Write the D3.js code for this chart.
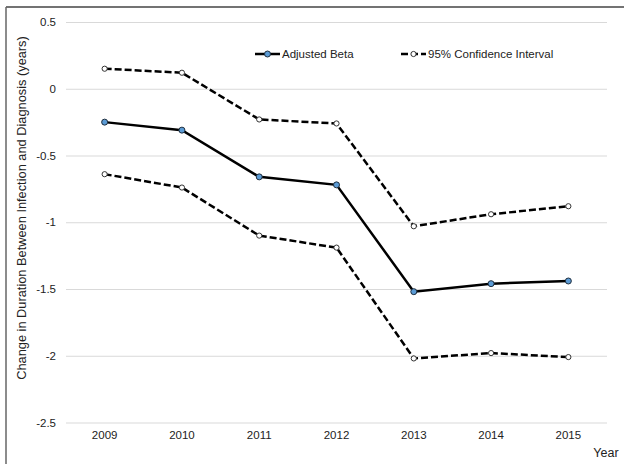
<!DOCTYPE html>
<html>
<head>
<meta charset="utf-8">
<script src="https://cdn.jsdelivr.net/npm/d3@7"></script>
<style>
  body { margin: 0; background: #fff; }
  svg text { font-family: "Liberation Sans", Arial, sans-serif; fill: #222; }
</style>
</head>
<body>
<div class="chart"></div>
<script>
const width = 624;
const height = 464;

// data
const years = ['2009', '2010', '2011', '2012', '2013', '2014', '2015'];
const adjustedBeta = [-0.25, -0.31, -0.66, -0.72, -1.52, -1.46, -1.44];
const upperCI = [0.15, 0.12, -0.23, -0.26, -1.03, -0.94, -0.88];
const lowerCI = [-0.64, -0.74, -1.10, -1.19, -2.02, -1.98, -2.01];
const yTicks = [0.5, 0, -0.5, -1, -1.5, -2, -2.5];

const plot = {left: 66, right: 607, top: 22, bottom: 422.5};

const svg = d3.select('.chart').append('svg')
    .attr('width', width)
    .attr('height', height);

// outer frame (only top and left edges visible)
svg.append('line').attr('x1', 6).attr('x2', width).attr('y1', 7).attr('y2', 7)
    .attr('stroke', '#444').attr('stroke-width', 1.5);
svg.append('line').attr('x1', 6).attr('x2', 6).attr('y1', 7).attr('y2', height)
    .attr('stroke', '#666').attr('stroke-width', 1.5);

const xScale = d3.scaleBand()
    .domain(years)
    .range([plot.left, plot.right]);
const x = (d) => xScale(d) + xScale.bandwidth() / 2;

const yScale = d3.scaleLinear()
    .domain([-2.5, 0.5])
    .range([plot.bottom, plot.top]);

/* gridlines + y labels */
const yAxis = d3.axisLeft(yScale)
    .tickValues(yTicks)
    .tickSize(-(plot.right - plot.left))
    .tickPadding(10)
    .tickFormat(d3.format('~g'));
svg.append('g')
    .attr('class', 'y-axis')
    .attr('transform', `translate(${plot.left},0)`)
    .call(yAxis)
    .call(g => g.select('.domain').remove())
    .call(g => g.selectAll('.tick line').attr('stroke', '#d9d9d9').attr('stroke-width', 1))
    .call(g => g.selectAll('.tick text').attr('font-size', 11.5).attr('fill', '#222')
        .text(d => d === 0 ? '0' : d3.format('~g')(d).replace('−', '-')));

/* x labels */
const xAxis = d3.axisBottom(xScale).tickSize(0).tickPadding(8);
svg.append('g')
    .attr('class', 'x-axis')
    .attr('transform', `translate(0,${plot.bottom})`)
    .call(xAxis)
    .call(g => g.select('.domain').remove())
    .call(g => g.selectAll('.tick text').attr('font-size', 11.5).attr('fill', '#222'));

svg.append('text')
    .attr('x', 606).attr('y', 457)
    .attr('text-anchor', 'middle')
    .attr('font-size', 12.5)
    .text('Year');

svg.append('text')
    .attr('transform', 'translate(26,208) rotate(-90)')
    .attr('text-anchor', 'middle')
    .attr('font-size', 12.8)
    .text('Change in Duration Between Infection and Diagnosis (years)');

/* lines */
const line = d3.line()
    .x((d, i) => x(years[i]))
    .y(d => yScale(d));

const ciSeries = [upperCI, lowerCI];
ciSeries.forEach(s => {
    svg.append('path')
        .attr('d', line(s))
        .attr('fill', 'none')
        .attr('stroke', '#000')
        .attr('stroke-width', 2.5)
        .attr('stroke-dasharray', '7,3');
    svg.append('g').selectAll('circle')
        .data(s)
        .enter()
        .append('circle')
        .attr('cx', (d, i) => x(years[i]))
        .attr('cy', d => yScale(d))
        .attr('r', 2.6)
        .attr('fill', '#fff')
        .attr('stroke', '#333')
        .attr('stroke-width', 1);
});

svg.append('path')
    .attr('d', line(adjustedBeta))
    .attr('fill', 'none')
    .attr('stroke', '#000')
    .attr('stroke-width', 2.5);
svg.append('g').selectAll('circle')
    .data(adjustedBeta)
    .enter()
    .append('circle')
    .attr('cx', (d, i) => x(years[i]))
    .attr('cy', d => yScale(d))
    .attr('r', 3)
    .attr('fill', '#5b9bd5')
    .attr('stroke', '#1f2f3f')
    .attr('stroke-width', 1);

/* legend */
const legend = svg.append('g').attr('class', 'legend');
legend.append('line').attr('x1', 255).attr('x2', 280).attr('y1', 54).attr('y2', 54)
    .attr('stroke', '#000').attr('stroke-width', 2.5);
legend.append('circle').attr('cx', 267.5).attr('cy', 54).attr('r', 3)
    .attr('fill', '#5b9bd5').attr('stroke', '#1f2f3f').attr('stroke-width', 1);
legend.append('text').attr('x', 282).attr('y', 58).attr('font-size', 11.5).text('Adjusted Beta');

legend.append('line').attr('x1', 401).attr('x2', 426).attr('y1', 54).attr('y2', 54)
    .attr('stroke', '#000').attr('stroke-width', 2.5).attr('stroke-dasharray', '7,3');
legend.append('circle').attr('cx', 413.5).attr('cy', 54).attr('r', 2.6)
    .attr('fill', '#fff').attr('stroke', '#333').attr('stroke-width', 1);
legend.append('text').attr('x', 428).attr('y', 58).attr('font-size', 11.5).text('95% Confidence Interval');
</script>
</body>
</html>
